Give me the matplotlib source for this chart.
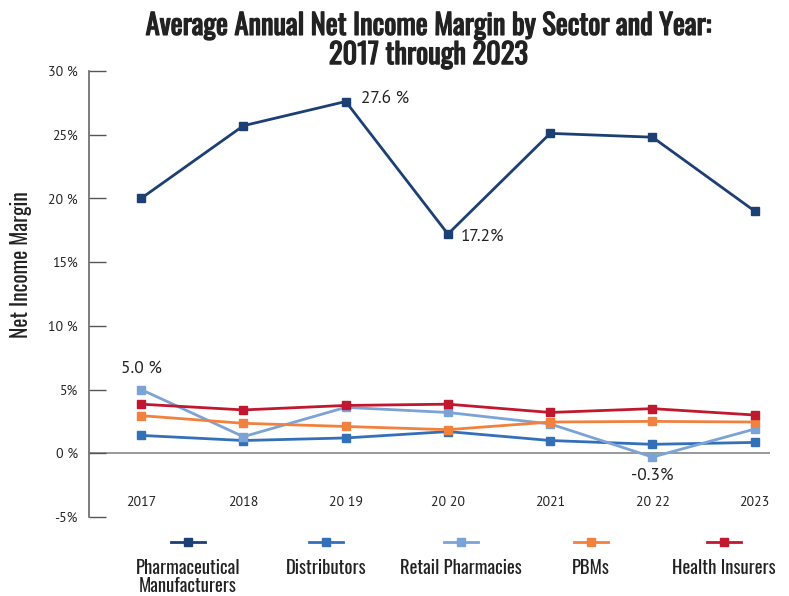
import numpy as np
import matplotlib.pyplot as plt
import matplotlib.patheffects as pe
from matplotlib.lines import Line2D

years = [2017, 2018, 2019, 2020, 2021, 2022, 2023]
year_labels = ["2017", "2018", "20 19", "20 20", "2021", "20 22", "2023"]

pharma = [20.0, 25.7, 27.6, 17.2, 25.1, 24.8, 19.0]
distributors = [1.4, 1.0, 1.2, 1.7, 1.0, 0.7, 0.85]
retail = [5.0, 1.3, 3.6, 3.2, 2.3, -0.3, 1.9]
pbms = [2.95, 2.35, 2.1, 1.85, 2.45, 2.5, 2.45]
insurers = [3.85, 3.4, 3.75, 3.85, 3.2, 3.5, 3.0]

series_names = ["Pharmaceutical\nManufacturers", "Distributors", "Retail Pharmacies",
                "PBMs", "Health Insurers"]
series_values = [pharma, distributors, retail, pbms, insurers]
colors = ["#1c3f74", "#3470b8", "#7ba3d6", "#f0813f", "#c0182f"]

ytick_vals = [-5, 0, 5, 10, 15, 20, 25, 30]
ytick_labels = ["-5%", "0 %", "5%", "10 %", "15%", "20 %", "25%", "30 %"]

cond = ["Oswald", "Roboto Condensed", "DejaVu Sans"]
body = ["PT Sans", "Open Sans", "DejaVu Sans"]
txt_col = "#222222"

fig = plt.figure(figsize=(7.89, 5.96), dpi=100)
ax = fig.add_axes([0.1128, 0.1326, 0.8632, 0.7484])

# series lines
for vals, col in zip(series_values, colors):
    ax.plot(years, vals, color=col, lw=2, marker="s", ms=5.5, zorder=3)

# zero line
ax.axhline(0, color="#888888", lw=1.2, zorder=1)

ax.set_xlim(2016.49, 2023.15)
ax.set_ylim(-5, 30)
for s in ["top", "right", "bottom"]:
    ax.spines[s].set_visible(False)
ax.spines["left"].set_color("#666666")
ax.spines["left"].set_linewidth(1.2)

ax.set_yticks(ytick_vals)
ax.set_yticklabels(ytick_labels, fontfamily=body, fontsize=10, color=txt_col)
ax.tick_params(axis="y", direction="in", length=12, width=1, color="#555555", pad=8)
ax.set_xticks([])

for yr, lab in zip(years, year_labels):
    ax.text(yr, -3.9, lab, ha="center", va="center", fontfamily=body,
            fontsize=10, color=txt_col)

ax.set_ylabel("Net Income Margin", fontfamily=cond, fontsize=15.5, color=txt_col)
ax.yaxis.set_label_coords(-0.084, 0.565)

# value callouts
ax.text(2019.15, 27.8, "27.6 %", fontfamily=body, fontsize=12.5, va="center", color=txt_col)
ax.text(2020.13, 17.0, "17.2%", fontfamily=body, fontsize=12.5, va="center", color=txt_col)
ax.text(2017.0, 6.6, "5.0 %", fontfamily=body, fontsize=12.5, va="center", ha="center", color=txt_col)
ax.text(2022.0, -1.8, "-0.3%", fontfamily=body, fontsize=12.5, va="center", ha="center", color=txt_col)

title = fig.suptitle("Average Annual Net Income Margin by Sector and Year:\n2017 through 2023",
                     x=0.543, y=0.98, fontfamily=cond, fontsize=20.5,
                     color=txt_col, linespacing=1.05)
title.set_path_effects([pe.withStroke(linewidth=0.9, foreground=txt_col)])

# legend: handle above label
leg_x = [188, 326, 461, 591, 724]
for lx, name, col in zip(leg_x, series_names, colors):
    fx = lx / 789
    fig.add_artist(Line2D([fx - 17 / 789, fx + 17 / 789], [1 - 541.5 / 596] * 2,
                          color=col, lw=2, transform=fig.transFigure))
    fig.add_artist(Line2D([fx], [1 - 541.5 / 596], color=col, marker="s", ms=6,
                          transform=fig.transFigure))
    fig.text(fx, 1 - 559 / 596, name, ha="center", va="top", fontfamily=cond,
             fontsize=13.5, color=txt_col, linespacing=1.02)

fig.savefig("out.png", dpi=100)
